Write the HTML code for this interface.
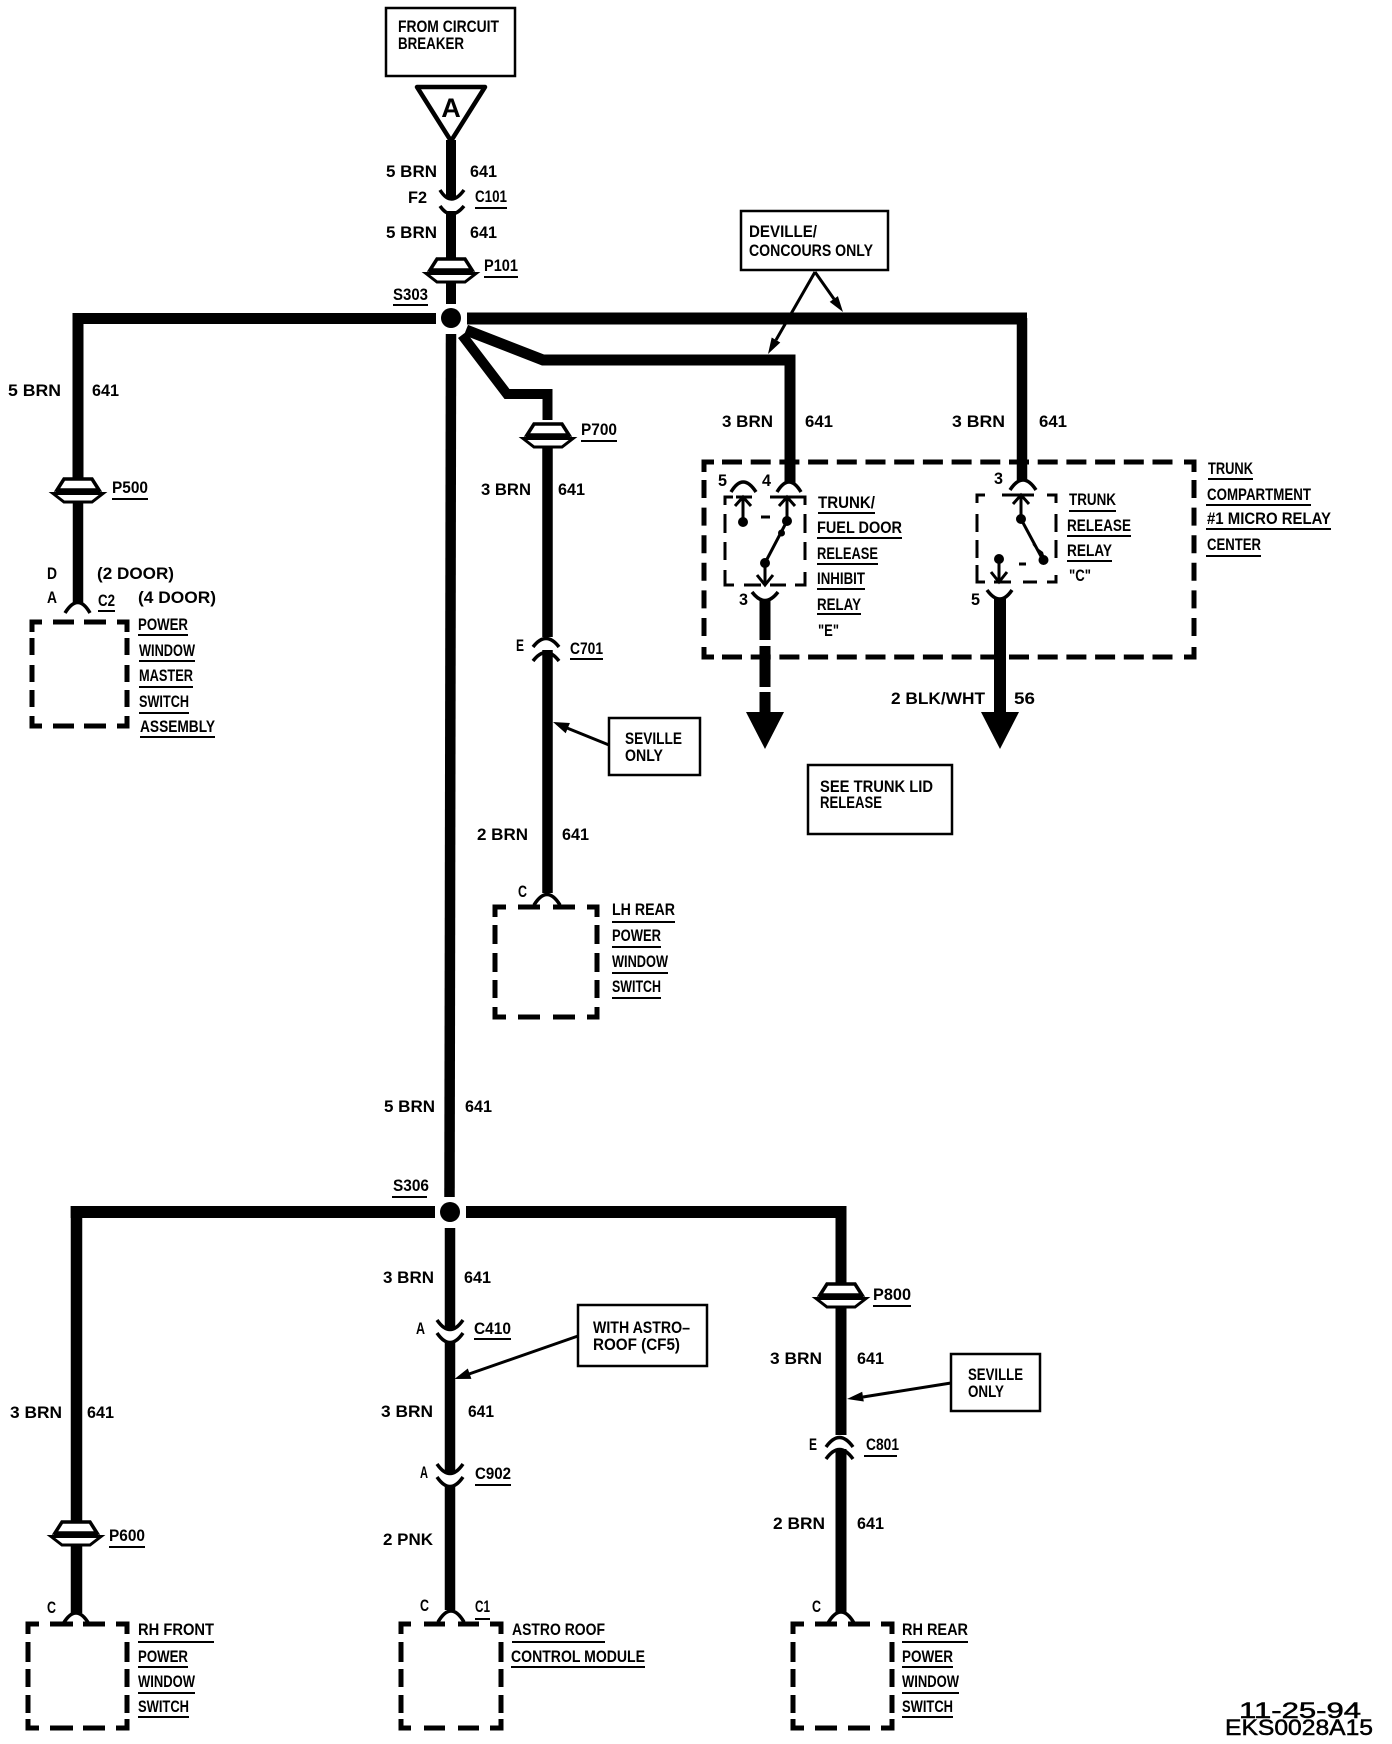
<!DOCTYPE html>
<html><head><meta charset="utf-8"><style>
html,body{margin:0;padding:0;background:#fff;width:1392px;height:1744px;overflow:hidden}
svg{display:block}
text{font-family:"Liberation Sans",sans-serif;font-weight:bold;font-size:17px;fill:#000;stroke:none}
.w{fill:none;stroke:#000;stroke-linejoin:miter}
.a{fill:none;stroke:#000;stroke-width:3.5}
.u{fill:none;stroke:#000;stroke-width:2}
.m{fill:none;stroke:#000;stroke-width:5}
.b{fill:#fff;stroke:#000;stroke-width:2.5}
.t{fill:none;stroke:#000;stroke-width:3}
.f{fill:#000;stroke:none}
</style></head><body>
<svg width="1392" height="1744" viewBox="0 0 1392 1744" xmlns="http://www.w3.org/2000/svg">
<defs><g id="gr">
<path d="M-14 -11H14L21 0H-21Z" fill="#fff" stroke="#000" stroke-width="3.5"/>
<path d="M-25 3.5L-14 12H14L25 3.5Z" fill="#fff" stroke="#000" stroke-width="3"/>
<path d="M-22 1H22" stroke="#000" stroke-width="3"/>
</g></defs>

<!-- boxes -->
<rect class="b" x="386" y="8" width="129" height="68"/>
<text x="398" y="32" textLength="101" lengthAdjust="spacingAndGlyphs">FROM CIRCUIT</text>
<text x="398" y="49" textLength="66" lengthAdjust="spacingAndGlyphs">BREAKER</text>
<rect class="b" x="741" y="211" width="147" height="59"/>
<text x="749" y="237" textLength="68" lengthAdjust="spacingAndGlyphs">DEVILLE/</text>
<text x="749" y="256" textLength="124" lengthAdjust="spacingAndGlyphs">CONCOURS ONLY</text>
<rect class="b" x="609" y="718" width="91" height="57"/>
<text x="625" y="744" textLength="57" lengthAdjust="spacingAndGlyphs">SEVILLE</text>
<text x="625" y="761" textLength="38" lengthAdjust="spacingAndGlyphs">ONLY</text>
<rect class="b" x="808" y="765" width="144" height="69"/>
<text x="820" y="792" textLength="113" lengthAdjust="spacingAndGlyphs">SEE TRUNK LID</text>
<text x="820" y="808" textLength="62" lengthAdjust="spacingAndGlyphs">RELEASE</text>
<rect class="b" x="578" y="1305" width="129" height="61"/>
<text x="593" y="1333" textLength="97" lengthAdjust="spacingAndGlyphs">WITH ASTRO–</text>
<text x="593" y="1350" textLength="87" lengthAdjust="spacingAndGlyphs">ROOF (CF5)</text>
<rect class="b" x="951" y="1354" width="89" height="57"/>
<text x="968" y="1380" textLength="55" lengthAdjust="spacingAndGlyphs">SEVILLE</text>
<text x="968" y="1397" textLength="36" lengthAdjust="spacingAndGlyphs">ONLY</text>

<!-- triangle -->
<path d="M417 87H485L451 141Z" fill="#fff" stroke="#000" stroke-width="4.500" stroke-linejoin="round"/>
<text x="451" y="117" text-anchor="middle" style="font-size:27px">A</text>

<!-- main wires -->
<path class="w" stroke-width="10" d="M451 140V199M451 211V304"/>
<path class="w" stroke-width="11" d="M436 318.500H78V478"/>
<path class="w" stroke-width="12" d="M467 318.500H1027"/>
<path class="w" stroke-width="10.500" d="M1022 318V480"/>
<path class="w" stroke-width="11" d="M466 330L543 360H790V483"/>
<path class="w" stroke-width="10" d="M462 335L507 394H547.500V420"/>
<path class="w" stroke-width="10.500" d="M547.500 448V637M547.500 650V893"/>
<path class="w" stroke-width="10.500" d="M78 500V603"/>
<path class="w" stroke-width="10.500" d="M451 334L449.500 1197"/>
<path class="w" stroke-width="12" d="M435 1212H70.700"/>
<path class="w" stroke-width="11.500" d="M76.500 1206V1522M76.500 1545V1613"/>
<path class="w" stroke-width="12" d="M466 1212H846.500"/>
<path class="w" stroke-width="11" d="M841 1206V1283M841 1306V1435M841 1449V1612"/>
<path class="w" stroke-width="10.500" d="M450 1228V1329M450 1343V1473M450 1487V1610"/>
<circle class="f" cx="451" cy="318" r="10"/>
<circle class="f" cx="450" cy="1212" r="10"/>

<!-- grommets -->
<use href="#gr" x="451" y="270"/>
<use href="#gr" x="78" y="490"/>
<use href="#gr" x="548" y="435"/>
<use href="#gr" x="76" y="1533"/>
<use href="#gr" x="841" y="1295"/>

<!-- connector arcs -->
<path class="a" d="M440 190Q451 208 464 190M440 206Q451 222 464 206"/>
<path class="a" d="M533 647Q546 630 559 647M533 661Q546 644 559 661"/>
<path class="a" d="M437 1320Q450 1339 463 1320M437 1333Q450 1352 463 1333"/>
<path class="a" d="M437 1464Q450 1483 463 1464M437 1477Q450 1496 463 1477"/>
<path class="a" d="M826 1447Q839.500 1428 853 1447M826 1459Q839.500 1440 853 1459"/>
<path class="a" d="M65 613Q78 592 90 613"/>
<path class="a" d="M534 905Q547 884 560 905"/>
<path class="a" d="M63 1624Q76 1602 89 1624"/>
<path class="a" d="M438 1622Q451 1600 464 1622"/>
<path class="a" d="M828 1623Q841 1601 854 1623"/>

<!-- module dashed -->
<path class="m" d="M32 632V622H42M117 622H127V632M32 716V726H42M117 726H127V716M53 622H74M84 622H106M53 726H74M84 726H106M32 638V655M32 665V682M32 690V707M127 638V655M127 665V682M127 690V707"/>
<path class="m" d="M495 917V907H506M587 907H597V917M495 1007V1017H506M587 1017H597V1007M518 907H540M553 907H575M518 1017H540M553 1017H575M495 925V944M495 953V972M495 980V998M597 925V944M597 953V972M597 980V998"/>
<path class="m" d="M28 1634V1624H39M116 1624H127V1634M28 1719V1728H39M116 1728H127V1719M50 1624H73M83 1624H105M50 1728H73M83 1728H105M28 1642V1662M28 1669V1687M28 1695V1713M127 1642V1662M127 1669V1687M127 1695V1713"/>
<path class="m" d="M401 1634V1624H411M490 1624H501V1634M401 1719V1728H411M490 1728H501V1719M424 1624H445M458 1624H479M424 1728H445M458 1728H479M401 1642V1662M401 1669V1687M401 1695V1713M501 1642V1662M501 1669V1687M501 1695V1713"/>
<path class="m" d="M793 1634V1624H804M881 1624H892V1634M793 1719V1728H804M881 1728H892V1719M815 1624H837M848 1624H870M815 1728H837M848 1728H870M793 1642V1662M793 1669V1687M793 1695V1713M892 1642V1662M892 1669V1687M892 1695V1713"/>

<!-- trunk relay center dashed -->
<path class="m" d="M704 472V462H714M1184 462H1194V472M704 647V657H714M1184 657H1194V647"/>
<path class="m" stroke-dasharray="20 8.700" d="M722 462H1180M722 657H1180"/>
<path class="m" stroke-dasharray="18 9.600" d="M704 480V640M1194 480V640"/>

<!-- relay E -->
<path class="t" d="M725 505V497H733M736 497H752M770 497H805V505M725 514V533M725 542V560M725 570V585H734M744 585H761M770 585H786M795 585H805V572M805 514V533M805 542V560M761 517H770"/>
<path class="a" d="M731 492Q743 472 756 492M777 492Q789 472 801 492"/>
<path class="t" d="M743 522V497M735 506L743 497L751 506M787 522V497M779 506L787 497L795 506M787 521L765 563M765 563V585M757 575L765 585L773 575"/>
<circle class="f" cx="743" cy="522" r="5"/><circle class="f" cx="787" cy="521" r="5"/><circle class="f" cx="781.500" cy="533" r="3.500"/><circle class="f" cx="765" cy="563" r="5"/>
<path class="a" d="M752 592Q765 609 778 592"/>
<path class="w" stroke-width="11" d="M765 600V640M765 646V687M765 692V714"/>
<path class="f" d="M746 712H784L765 749Z"/>

<!-- relay C -->
<path class="t" d="M977 503V495H985M1002 495H1034M1047 495H1056V503M977 514V532M977 540V558M977 565V582H985M994 582H1011M1023 582H1037M1047 582H1056V575M1056 514V532M1056 540V558M1019 564H1026"/>
<path class="a" d="M1010 490Q1023 470 1036 490"/>
<path class="t" d="M1021 519V495M1013 504L1021 495L1029 504M1021 519L1043 560M999 559V582M991 572L999 582L1007 572"/>
<circle class="f" cx="1021" cy="519" r="5"/><circle class="f" cx="1043.500" cy="560" r="5"/><circle class="f" cx="999" cy="559" r="5"/>
<path class="f" d="M1032 544L1043 552L1046 562Z"/>
<path class="a" d="M987 590Q1000 608 1012 590"/>
<path class="w" stroke-width="12" d="M1000 598V714"/>
<path class="f" d="M981 712H1019L1000 749Z"/>

<!-- arrows -->
<path class="t" d="M815 272L776 340M815 272L834 299M609 745L567 728M578 1336L469 1374M951 1383L863 1397"/>
<path class="f" d="M768 354L780.300 342.500L771.700 337.500ZM843 312L837.900 296.100L829.700 301.900ZM553 722L569.900 723L565.700 733.200ZM454.500 1379L471.400 1378.900L467.800 1368.500ZM847 1399L863.800 1401.500L862.200 1391.700Z"/>

<!-- underlines -->
<path class="u" d="M475 208H507M484 277H518M393 305H428M581 441H617M112 499H148M98 611H115M138 635H188M139 661H195M139 687H193M139 713H189M140 737H215M570 659H603M612 922H675M612 947H661M612 973H668M612 998H661M818 513H875M817 538H902M817 564H878M817 589H865M817 614H861M1069 511H1116M1067 536H1131M1067 561H1112M1208 479H1253M1206 505H1311M1206 529H1331M1206 556H1261M392 1197H427M474 1339H511M475 1485H511M109 1547H145M138 1642H214M138 1667H188M138 1693H195M138 1717H189M475 1619H490M512 1642H605M511 1667H645M873 1306H911M864 1456H897M902 1642H968M902 1667H953M902 1693H959M902 1717H953"/>

<!-- wire labels -->
<text x="386" y="177" textLength="51" lengthAdjust="spacingAndGlyphs">5 BRN</text>
<text x="470" y="177" textLength="27" lengthAdjust="spacingAndGlyphs">641</text>
<text x="408" y="203" textLength="19" lengthAdjust="spacingAndGlyphs">F2</text>
<text x="475" y="202" textLength="32" lengthAdjust="spacingAndGlyphs">C101</text>
<text x="386" y="238" textLength="51" lengthAdjust="spacingAndGlyphs">5 BRN</text>
<text x="470" y="238" textLength="27" lengthAdjust="spacingAndGlyphs">641</text>
<text x="484" y="271" textLength="34" lengthAdjust="spacingAndGlyphs">P101</text>
<text x="393" y="300" textLength="35" lengthAdjust="spacingAndGlyphs">S303</text>
<text x="581" y="435" textLength="36" lengthAdjust="spacingAndGlyphs">P700</text>
<text x="722" y="427" textLength="51" lengthAdjust="spacingAndGlyphs">3 BRN</text>
<text x="805" y="427" textLength="28" lengthAdjust="spacingAndGlyphs">641</text>
<text x="952" y="427" textLength="53" lengthAdjust="spacingAndGlyphs">3 BRN</text>
<text x="1039" y="427" textLength="28" lengthAdjust="spacingAndGlyphs">641</text>
<text x="8" y="396" textLength="53" lengthAdjust="spacingAndGlyphs">5 BRN</text>
<text x="92" y="396" textLength="27" lengthAdjust="spacingAndGlyphs">641</text>
<text x="112" y="493" textLength="36" lengthAdjust="spacingAndGlyphs">P500</text>
<text x="47" y="579" textLength="10" lengthAdjust="spacingAndGlyphs">D</text>
<text x="97" y="579" textLength="77" lengthAdjust="spacingAndGlyphs">(2 DOOR)</text>
<text x="47" y="603" textLength="10" lengthAdjust="spacingAndGlyphs">A</text>
<text x="98" y="606" textLength="17" lengthAdjust="spacingAndGlyphs">C2</text>
<text x="138" y="603" textLength="78" lengthAdjust="spacingAndGlyphs">(4 DOOR)</text>
<text x="138" y="630" textLength="50" lengthAdjust="spacingAndGlyphs">POWER</text>
<text x="139" y="656" textLength="56" lengthAdjust="spacingAndGlyphs">WINDOW</text>
<text x="139" y="681" textLength="54" lengthAdjust="spacingAndGlyphs">MASTER</text>
<text x="139" y="707" textLength="50" lengthAdjust="spacingAndGlyphs">SWITCH</text>
<text x="140" y="732" textLength="75" lengthAdjust="spacingAndGlyphs">ASSEMBLY</text>
<text x="481" y="495" textLength="50" lengthAdjust="spacingAndGlyphs">3 BRN</text>
<text x="558" y="495" textLength="27" lengthAdjust="spacingAndGlyphs">641</text>
<text x="516" y="651" textLength="8" lengthAdjust="spacingAndGlyphs">E</text>
<text x="570" y="654" textLength="33" lengthAdjust="spacingAndGlyphs">C701</text>
<text x="477" y="840" textLength="51" lengthAdjust="spacingAndGlyphs">2 BRN</text>
<text x="562" y="840" textLength="27" lengthAdjust="spacingAndGlyphs">641</text>
<text x="518" y="897" textLength="9" lengthAdjust="spacingAndGlyphs">C</text>
<text x="612" y="915" textLength="63" lengthAdjust="spacingAndGlyphs">LH REAR</text>
<text x="612" y="941" textLength="49" lengthAdjust="spacingAndGlyphs">POWER</text>
<text x="612" y="967" textLength="56" lengthAdjust="spacingAndGlyphs">WINDOW</text>
<text x="612" y="992" textLength="49" lengthAdjust="spacingAndGlyphs">SWITCH</text>

<text x="718" y="486" textLength="9" lengthAdjust="spacingAndGlyphs">5</text>
<text x="762" y="486" textLength="9" lengthAdjust="spacingAndGlyphs">4</text>
<text x="739" y="605" textLength="9" lengthAdjust="spacingAndGlyphs">3</text>
<text x="994" y="484" textLength="9" lengthAdjust="spacingAndGlyphs">3</text>
<text x="971" y="605" textLength="9" lengthAdjust="spacingAndGlyphs">5</text>
<text x="818" y="508" textLength="57" lengthAdjust="spacingAndGlyphs">TRUNK/</text>
<text x="817" y="533" textLength="85" lengthAdjust="spacingAndGlyphs">FUEL DOOR</text>
<text x="817" y="559" textLength="61" lengthAdjust="spacingAndGlyphs">RELEASE</text>
<text x="817" y="584" textLength="48" lengthAdjust="spacingAndGlyphs">INHIBIT</text>
<text x="817" y="610" textLength="44" lengthAdjust="spacingAndGlyphs">RELAY</text>
<text x="818" y="636" textLength="21" lengthAdjust="spacingAndGlyphs">"E"</text>
<text x="1069" y="505" textLength="47" lengthAdjust="spacingAndGlyphs">TRUNK</text>
<text x="1067" y="531" textLength="64" lengthAdjust="spacingAndGlyphs">RELEASE</text>
<text x="1067" y="556" textLength="45" lengthAdjust="spacingAndGlyphs">RELAY</text>
<text x="1069" y="581" textLength="22" lengthAdjust="spacingAndGlyphs">"C"</text>
<text x="1208" y="474" textLength="45" lengthAdjust="spacingAndGlyphs">TRUNK</text>
<text x="1207" y="500" textLength="104" lengthAdjust="spacingAndGlyphs">COMPARTMENT</text>
<text x="1207" y="524" textLength="124" lengthAdjust="spacingAndGlyphs">#1 MICRO RELAY</text>
<text x="1207" y="550" textLength="54" lengthAdjust="spacingAndGlyphs">CENTER</text>
<text x="891" y="704" textLength="94" lengthAdjust="spacingAndGlyphs">2 BLK/WHT</text>
<text x="1014" y="704" textLength="21" lengthAdjust="spacingAndGlyphs">56</text>

<text x="384" y="1112" textLength="51" lengthAdjust="spacingAndGlyphs">5 BRN</text>
<text x="465" y="1112" textLength="27" lengthAdjust="spacingAndGlyphs">641</text>
<text x="393" y="1191" textLength="36" lengthAdjust="spacingAndGlyphs">S306</text>
<text x="10" y="1418" textLength="52" lengthAdjust="spacingAndGlyphs">3 BRN</text>
<text x="87" y="1418" textLength="27" lengthAdjust="spacingAndGlyphs">641</text>
<text x="109" y="1541" textLength="36" lengthAdjust="spacingAndGlyphs">P600</text>
<text x="47" y="1613" textLength="9" lengthAdjust="spacingAndGlyphs">C</text>
<text x="138" y="1635" textLength="76" lengthAdjust="spacingAndGlyphs">RH FRONT</text>
<text x="138" y="1662" textLength="50" lengthAdjust="spacingAndGlyphs">POWER</text>
<text x="138" y="1687" textLength="57" lengthAdjust="spacingAndGlyphs">WINDOW</text>
<text x="138" y="1712" textLength="51" lengthAdjust="spacingAndGlyphs">SWITCH</text>
<text x="383" y="1283" textLength="51" lengthAdjust="spacingAndGlyphs">3 BRN</text>
<text x="464" y="1283" textLength="27" lengthAdjust="spacingAndGlyphs">641</text>
<text x="416" y="1334" textLength="9" lengthAdjust="spacingAndGlyphs">A</text>
<text x="474" y="1334" textLength="37" lengthAdjust="spacingAndGlyphs">C410</text>
<text x="381" y="1417" textLength="52" lengthAdjust="spacingAndGlyphs">3 BRN</text>
<text x="468" y="1417" textLength="26" lengthAdjust="spacingAndGlyphs">641</text>
<text x="420" y="1478" textLength="8" lengthAdjust="spacingAndGlyphs">A</text>
<text x="475" y="1479" textLength="36" lengthAdjust="spacingAndGlyphs">C902</text>
<text x="383" y="1545" textLength="50" lengthAdjust="spacingAndGlyphs">2 PNK</text>
<text x="420" y="1611" textLength="9" lengthAdjust="spacingAndGlyphs">C</text>
<text x="475" y="1612" textLength="15" lengthAdjust="spacingAndGlyphs">C1</text>
<text x="512" y="1635" textLength="93" lengthAdjust="spacingAndGlyphs">ASTRO ROOF</text>
<text x="511" y="1662" textLength="134" lengthAdjust="spacingAndGlyphs">CONTROL MODULE</text>
<text x="873" y="1300" textLength="38" lengthAdjust="spacingAndGlyphs">P800</text>
<text x="770" y="1364" textLength="52" lengthAdjust="spacingAndGlyphs">3 BRN</text>
<text x="857" y="1364" textLength="27" lengthAdjust="spacingAndGlyphs">641</text>
<text x="809" y="1450" textLength="8" lengthAdjust="spacingAndGlyphs">E</text>
<text x="866" y="1450" textLength="33" lengthAdjust="spacingAndGlyphs">C801</text>
<text x="773" y="1529" textLength="52" lengthAdjust="spacingAndGlyphs">2 BRN</text>
<text x="857" y="1529" textLength="27" lengthAdjust="spacingAndGlyphs">641</text>
<text x="812" y="1612" textLength="9" lengthAdjust="spacingAndGlyphs">C</text>
<text x="902" y="1635" textLength="66" lengthAdjust="spacingAndGlyphs">RH REAR</text>
<text x="902" y="1662" textLength="51" lengthAdjust="spacingAndGlyphs">POWER</text>
<text x="902" y="1687" textLength="57" lengthAdjust="spacingAndGlyphs">WINDOW</text>
<text x="902" y="1712" textLength="51" lengthAdjust="spacingAndGlyphs">SWITCH</text>
<text x="1239" y="1718" textLength="122" lengthAdjust="spacingAndGlyphs" style="font-size:22px;font-weight:normal;stroke:#000;stroke-width:.5">11-25-94</text>
<text x="1225" y="1735" textLength="148" lengthAdjust="spacingAndGlyphs" style="font-size:22px;font-weight:normal;stroke:#000;stroke-width:.5">EKS0028A15</text>
</svg>
</body></html>
